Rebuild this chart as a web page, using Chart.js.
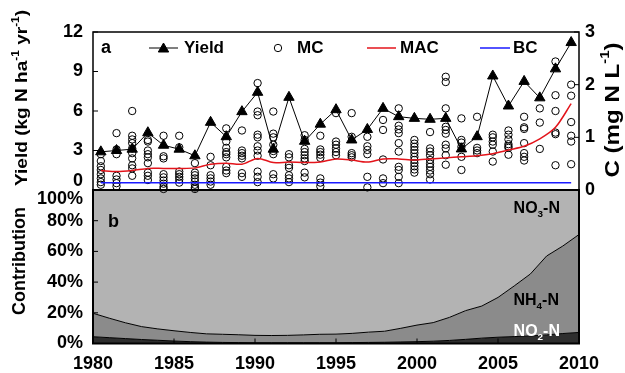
<!DOCTYPE html>
<html><head><meta charset="utf-8">
<script src="https://cdn.jsdelivr.net/npm/chart.js@4.4.0/dist/chart.umd.min.js"></script>
<style>
html,body{margin:0;padding:0;background:#fff;}
#wrap{position:relative;width:625px;height:373px;background:#fff;}
canvas{position:absolute;left:0;top:0;}
</style></head><body>
<div id="wrap"><canvas id="cb" width="625" height="373"></canvas><canvas id="ca" width="625" height="373"></canvas></div>
<script>
// ---------- DATA ----------
const years = ['1980','1981','1982','1983','1984','1985','1986','1987','1988','1989','1990','1991','1992','1993','1994','1995','1996','1997','1998','1999','2000','2001','2002','2003','2004','2005','2006','2007','2008','2009','2010'];
const yieldVals = [2.9,3.0,3.1,4.35,3.4,3.1,2.6,5.14,4.05,5.95,7.42,3.1,7.04,3.7,5.0,6.1,3.8,4.6,6.2,5.57,5.44,5.37,5.44,3.12,4.05,8.66,6.38,8.25,7.0,9.2,11.2];
const macVals = [0.37,0.35,0.37,0.41,0.41,0.41,0.42,0.49,0.51,0.49,0.60,0.52,0.53,0.52,0.53,0.59,0.57,0.53,0.59,0.59,0.57,0.59,0.61,0.63,0.65,0.69,0.76,0.83,0.97,1.19,1.64];
const bcVals = [0.14,0.14,0.14,0.14,0.14,0.14,0.14,0.14,0.14,0.14,0.14,0.14,0.14,0.14,0.14,0.14,0.14,0.14,0.14,0.14,0.14,0.14,0.14,0.14,0.14,0.14,0.14,0.14,0.14,0.14,0.14];
const mcValues = [
 [0.68,0.55,0.45,0.38,0.30,0.22,0.15,0.10],
 [1.08,0.77,0.68,0.27,0.20,0.13,0.07],
 [1.50,1.03,0.96,0.89,0.79,0.70,0.60,0.47,0.41,0.27],
 [0.95,0.92,0.75,0.68,0.62,0.51,0.33,0.27,0.19],
 [1.03,0.64,0.60,0.30,0.24,0.18,0.12,0.06,0.02],
 [1.03,0.81,0.35,0.30,0.25,0.20,0.14],
 [0.51,0.33,0.28,0.22,0.16,0.10,0.05,0.02],
 [0.63,0.47,0.28,0.22,0.16,0.10],
 [1.17,0.92,0.80,0.72,0.68,0.62,0.44,0.37,0.32],
 [1.13,0.75,0.70,0.65,0.60,0.32,0.25],
 [2.03,1.49,1.42,1.05,1.00,0.83,0.75,0.65,0.35,0.25,0.15],
 [1.49,1.07,1.00,0.86,0.74,0.68,0.30,0.22],
 [0.68,0.62,0.47,0.42,0.28,0.22,0.15],
 [1.04,0.95,0.78,0.72,0.66,0.60,0.55,0.33,0.24],
 [1.03,0.77,0.72,0.67,0.61,0.22,0.14,0.07],
 [1.46,0.92,0.86,0.79,0.72,0.66],
 [1.46,1.01,0.70,0.66,0.62],
 [1.01,0.83,0.76,0.68,0.25,0.05],
 [1.33,1.14,0.58,0.22,0.13],
 [1.55,1.22,1.15,1.08,0.89,0.73,0.44,0.38,0.25,0.13],
 [0.95,0.88,0.82,0.76,0.70,0.63,0.57,0.51,0.45,0.39,0.33],
 [1.10,0.79,0.73,0.66,0.57,0.50,0.44,0.37,0.30,0.20],
 [2.15,2.05,1.55,1.20,1.14,1.07,0.86,0.79,0.66,0.48],
 [1.36,0.95,0.90,0.82,0.63,0.38],
 [1.39,0.80,0.75,0.70],
 [1.05,1.00,0.92,0.86,0.73,0.54],
 [1.13,1.05,0.96,0.87,0.83,0.80,0.67],
 [1.39,1.19,1.16,0.89,0.70,0.63,0.56],
 [1.55,1.28,0.78],
 [2.44,1.80,1.50,1.09,1.06,0.47],
 [2.00,1.79,1.29,1.03,0.92,0.49]
];
// contribution shares (%)
const no2Share = [4.4,3.8,3.2,2.6,2.1,1.6,1.2,0.9,0.7,0.6,0.5,0.5,0.5,0.5,0.5,0.5,0.6,0.7,0.8,1.0,1.2,1.5,2.0,2.7,3.5,4.1,4.5,4.9,5.6,6.5,7.2];
const nh4Share = [15.3,12.7,10.3,8.4,7.4,6.7,6.0,5.4,5.3,5.1,4.8,4.7,4.8,5.1,5.5,5.6,6.0,6.7,7.2,8.9,10.8,12.1,15.0,18.7,20.9,25.9,33.0,40.4,51.4,57.0,63.8];
const no3Share = [80.3,83.5,86.5,89.0,90.5,91.7,92.8,93.7,94.0,94.3,94.7,94.8,94.7,94.4,94.0,93.9,93.4,92.6,92.0,90.1,88.0,86.4,83.0,78.6,75.6,70.0,62.5,54.7,43.0,36.5,29.0];
const leftTicksTop = [0,3,6,9,12];
const rightTicksTop = [0,1,2,3];
const pctTicks = [0,20,40,60,80,100];
const yearTicks = [1980,1985,1990,1995,2000,2005,2010];

// ---------- STYLE ----------
const FAM = "'Liberation Sans', Arial, Helvetica, sans-serif";
Chart.defaults.font.family = FAM;
Chart.defaults.font.weight = 'bold';
Chart.defaults.color = '#000';

function partsWidth(ctx, parts, size){
  let w = 0;
  for (const [t, m] of parts){ ctx.font = `bold ${m ? size*0.62 : size}px ${FAM}`; w += ctx.measureText(t).width; }
  return w;
}
function drawRich(ctx, parts, x, y, size, align, color){
  const w = partsWidth(ctx, parts, size);
  let cx = align === 'center' ? x - w/2 : (align === 'right' ? x - w : x);
  ctx.textBaseline = 'middle'; ctx.textAlign = 'left'; ctx.fillStyle = color;
  for (const [t, m] of parts){
    const s = m ? size*0.62 : size;
    ctx.font = `bold ${s}px ${FAM}`;
    const dy = m === 'sup' ? -size*0.36 : (m === 'sub' ? size*0.3 : 0);
    ctx.fillText(t, cx, y + dy);
    cx += ctx.measureText(t).width;
  }
}
function drawRotated(ctx, parts, x, y, size, targetLen){
  ctx.save(); ctx.translate(x, y); ctx.rotate(-Math.PI/2);
  const w = partsWidth(ctx, parts, size);
  if (targetLen) ctx.scale(targetLen / w, 1);
  drawRich(ctx, parts, 0, 0, size, 'center', '#000');
  ctx.restore();
}
function inwardTicks(chart, scaleId, side, len, values){
  const s = chart.scales[scaleId], a = chart.chartArea, ctx = chart.ctx;
  ctx.save(); ctx.strokeStyle = '#000'; ctx.lineWidth = 1;
  for (const v of values){
    const p = s.getPixelForValue(v);
    ctx.beginPath();
    if (side === 'left'){ ctx.moveTo(a.left, p); ctx.lineTo(a.left + len, p); }
    else if (side === 'right'){ ctx.moveTo(a.right, p); ctx.lineTo(a.right - len, p); }
    else { ctx.moveTo(p, a.bottom); ctx.lineTo(p, a.bottom - len); }
    ctx.stroke();
  }
  ctx.restore();
}

const tickFont = {size: 18, weight: 'bold', lineHeight: 1, family: FAM};

// ---------- TOP PANEL ----------
const mcPoints = [];
years.forEach((y, i) => mcValues[i].forEach(v => mcPoints.push({x: y, y: v})));

const topPlugin = {
  id: 'topDeco',
  afterDraw(chart){
    const ctx = chart.ctx, a = chart.chartArea;
    ctx.save();
    ctx.strokeStyle = '#000'; ctx.lineWidth = 1.5;
    ctx.strokeRect(a.left, a.top, a.right - a.left, a.bottom - a.top);
    ctx.restore();
    inwardTicks(chart, 'yL', 'left', 5, leftTicksTop);
    inwardTicks(chart, 'yR', 'right', 5, rightTicksTop);
    drawRich(ctx, [['a', null]], 101, 48, 18, 'left', '#000');
    const ly = 48;
    ctx.save();
    ctx.strokeStyle = '#000'; ctx.lineWidth = 1;
    ctx.beginPath(); ctx.moveTo(149, ly); ctx.lineTo(178, ly); ctx.stroke();
    ctx.fillStyle = '#000';
    Chart.helpers.drawPoint(ctx, {pointStyle: 'triangle', radius: 6, borderWidth: 1, rotation: 0}, 163.5, ly + 1);
    ctx.strokeStyle = '#000'; ctx.lineWidth = 1;
    ctx.beginPath(); ctx.arc(278, ly, 3.7, 0, Math.PI*2); ctx.stroke();
    ctx.strokeStyle = '#e3141b'; ctx.lineWidth = 1.5;
    ctx.beginPath(); ctx.moveTo(367, ly); ctx.lineTo(396, ly); ctx.stroke();
    ctx.strokeStyle = '#1a1aff';
    ctx.beginPath(); ctx.moveTo(480, ly); ctx.lineTo(510, ly); ctx.stroke();
    ctx.restore();
    drawRich(ctx, [['Yield', null]], 184, ly, 17, 'left', '#000');
    drawRich(ctx, [['MC', null]], 297, ly, 17, 'left', '#000');
    drawRich(ctx, [['MAC', null]], 400, ly, 17, 'left', '#000');
    drawRich(ctx, [['BC', null]], 513, ly, 17, 'left', '#000');
    drawRotated(ctx, [['Yield (kg N ha', null], ['-1', 'sup'], [' yr', null], ['-1', 'sup'], [')', null]], 22, 98, 17, 176);
    drawRotated(ctx, [['C (mg N L', null], ['-1', 'sup'], [')', null]], 613, 110, 20, 135);
    drawRotated(ctx, [['Contribution', null]], 20, 261, 18, 0);
  }
};

new Chart(document.getElementById('ca'), {
  type: 'line',
  data: {
    labels: years,
    datasets: [
      {label: 'Yield', data: yieldVals, yAxisID: 'yL', borderColor: '#000', borderWidth: 1,
       pointStyle: 'triangle', pointRadius: 6, pointBackgroundColor: '#000', pointBorderColor: '#000', pointBorderWidth: 1, order: 0, tension: 0},
      {label: 'MAC', data: macVals, yAxisID: 'yR', borderColor: '#e3141b', borderWidth: 1.5, pointRadius: 0, order: 1, tension: 0.3},
      {label: 'BC', data: bcVals, yAxisID: 'yR', borderColor: '#1a1aff', borderWidth: 1.5, pointRadius: 0, order: 2},
      {label: 'MC', data: mcPoints, yAxisID: 'yR', showLine: false, pointStyle: 'circle', pointRadius: 3.7,
       pointBorderWidth: 1, pointBorderColor: '#000', pointBackgroundColor: 'rgba(0,0,0,0)', order: 3, clip: false}
    ]
  },
  options: {
    responsive: false, animation: false, devicePixelRatio: 1,
    layout: {padding: {top: 32, bottom: 183, left: 0, right: 0}},
    plugins: {legend: {display: false}, tooltip: {enabled: false}},
    scales: {
      x: {type: 'category', display: false, offset: true},
      yL: {position: 'left', min: 0, max: 12,
           afterBuildTicks(s){ s.ticks = leftTicksTop.map(v => ({value: v})); },
           ticks: {autoSkip: false, padding: 10, font: tickFont, color: '#000', callback: v => v === 0 ? ['0', ''] : String(v)},
           grid: {display: false, drawTicks: false}, border: {display: false},
           afterFit(s){ s.width = 93; }},
      yR: {position: 'right', min: 0, max: 3,
           afterBuildTicks(s){ s.ticks = rightTicksTop.map(v => ({value: v})); },
           ticks: {autoSkip: false, padding: 6, font: tickFont, color: '#000'},
           grid: {display: false, drawTicks: false}, border: {display: false},
           afterFit(s){ s.width = 46; }}
    }
  },
  plugins: [topPlugin]
});

// ---------- BOTTOM PANEL ----------
const yearNums = years.map(Number);
const bottomPlugin = {
  id: 'botDeco',
  afterDraw(chart){
    const ctx = chart.ctx, a = chart.chartArea;
    inwardTicks(chart, 'x', 'bottom', 5, yearTicks);
    inwardTicks(chart, 'y', 'left', 5, pctTicks);
    ctx.save(); ctx.strokeStyle = '#000'; ctx.lineWidth = 2;
    ctx.strokeRect(a.left, a.top, a.right - a.left, a.bottom - a.top);
    ctx.restore();
    drawRich(ctx, [['b', null]], 108, 222, 18, 'left', '#000');
    drawRich(ctx, [['NO', null], ['3', 'sub'], ['-N', null]], 560, 209, 16, 'right', '#000');
    drawRich(ctx, [['NH', null], ['4', 'sub'], ['-N', null]], 559, 301, 16, 'right', '#000');
    drawRich(ctx, [['NO', null], ['2', 'sub'], ['-N', null]], 560, 332, 16, 'right', '#fff');
  }
};

new Chart(document.getElementById('cb'), {
  type: 'line',
  data: {
    datasets: [
      {label: 'NO2-N', data: yearNums.map((y, i) => ({x: y, y: no2Share[i]})), backgroundColor: '#2e2e2e',
       borderColor: '#000', borderWidth: 1, fill: 'origin', pointRadius: 0, tension: 0},
      {label: 'NH4-N', data: yearNums.map((y, i) => ({x: y, y: nh4Share[i]})), backgroundColor: '#8b8b8b',
       borderColor: '#000', borderWidth: 1, fill: '-1', pointRadius: 0, tension: 0},
      {label: 'NO3-N', data: yearNums.map((y, i) => ({x: y, y: no3Share[i]})), backgroundColor: '#b3b3b3',
       borderColor: '#b3b3b3', borderWidth: 0, fill: '-1', pointRadius: 0, tension: 0}
    ]
  },
  options: {
    responsive: false, animation: false, devicePixelRatio: 1,
    layout: {padding: {top: 190, bottom: 0, left: 0, right: 46}},
    plugins: {legend: {display: false}, tooltip: {enabled: false}},
    scales: {
      x: {type: 'linear', min: 1980, max: 2010,
          afterBuildTicks(s){ s.ticks = yearTicks.map(v => ({value: v})); },
          ticks: {autoSkip: false, maxRotation: 0, padding: 10, font: {size: 18, weight: 'bold', family: FAM}, color: '#000', callback: v => String(v)},
          grid: {display: false, drawTicks: false}, border: {display: false},
          afterFit(s){ s.height = 29.5; }},
      y: {stacked: true, min: 0, max: 100,
          afterBuildTicks(s){ s.ticks = pctTicks.map(v => ({value: v})); },
          ticks: {autoSkip: false, padding: 10, font: tickFont, color: '#000', callback: v => v === 100 ? ['', '100%'] : v + '%'},
          grid: {display: false, drawTicks: false}, border: {display: false},
          afterFit(s){ s.width = 93; }}
    }
  },
  plugins: [bottomPlugin]
});
</script>
</body></html>
